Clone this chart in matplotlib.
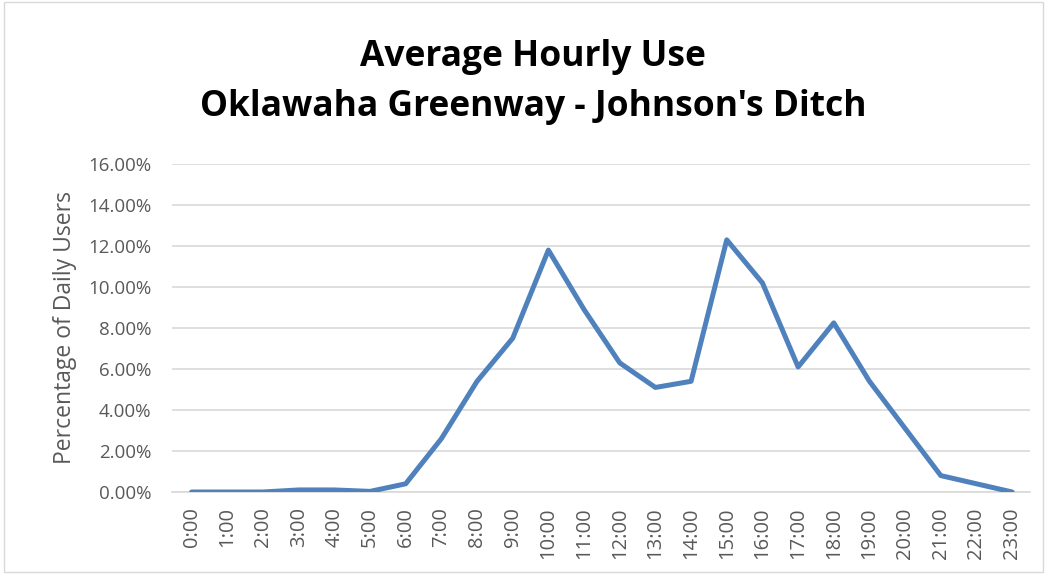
import numpy as np
import matplotlib.pyplot as plt
from matplotlib.ticker import FuncFormatter

hours = ['%d:00' % h for h in range(24)]
share = [0.0, 0.0, 0.0, 0.1, 0.1, 0.03, 0.4, 2.6, 5.4, 7.5, 11.8, 8.9,
         6.3, 5.1, 5.4, 12.3, 10.2, 6.1, 8.25, 5.4, 3.1, 0.8, 0.4, 0.0]
y_ticks = [0, 2, 4, 6, 8, 10, 12, 14, 16]

plt.rcParams['font.family'] = ['Open Sans', 'DejaVu Sans']
fig = plt.figure(figsize=(10.47, 5.74), dpi=100)
ax = fig.add_axes([172 / 1047, 1 - 492 / 574, (1030 - 172) / 1047, (492 - 164) / 574])

x = np.arange(len(hours))
ax.plot(x, share, color='#4f81bd', linewidth=3.6, solid_joinstyle='round', solid_capstyle='round', zorder=3)

ax.set_xlim(-0.55, 23.5)
ax.set_ylim(0, 16)
ax.set_yticks(y_ticks)
ax.yaxis.set_major_formatter(FuncFormatter(lambda v, p: '%.2f%%' % v))
ax.set_xticks(x)
ax.set_xticklabels(hours, rotation=90, fontsize=14.5, color='#595959')
ax.tick_params(axis='y', labelsize=13.5, labelcolor='#595959', length=0, pad=15)
ax.tick_params(axis='x', length=0, pad=11)
ax.grid(True, axis='y', color='#d9d9d9', linewidth=1.2, zorder=0)
for s in ['top', 'right', 'left']:
    ax.spines[s].set_visible(False)
ax.spines['bottom'].set_color('#d9d9d9')
ax.spines['bottom'].set_linewidth(1.2)
ax.set_ylabel('Percentage of Daily Users', fontsize=16.5, color='#595959', labelpad=8)

fig.text(0.509, 1 - 57 / 574, 'Average Hourly Use', ha='center', va='center',
         fontsize=25.5, fontweight='bold', color='black')
fig.text(0.509, 1 - 107 / 574, "Oklawaha Greenway - Johnson's Ditch", ha='center', va='center',
         fontsize=25.5, fontweight='bold', color='black')

border = plt.Rectangle((0.004, 0.004), 0.992, 0.992, transform=fig.transFigure,
                       fill=False, edgecolor='#d9d9d9', linewidth=1)
fig.patches.append(border)

fig.savefig('out.png', dpi=100)
